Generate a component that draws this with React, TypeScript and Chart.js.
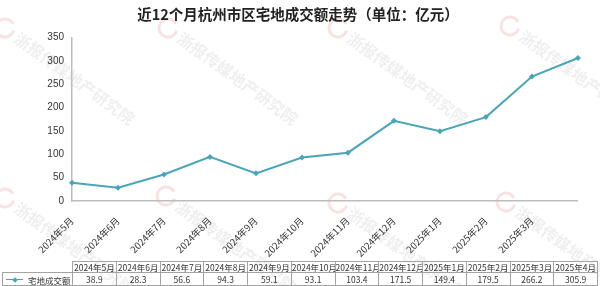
import React, { useEffect, useRef } from "react";
import { Chart, registerables } from "chart.js";

Chart.register(...registerables);

const TITLE = "近12个月杭州市区宅地成交额走势（单位：亿元）";
const SERIES_NAME = "宅地成交额";
const MONTHS = [
  "2024年5月", "2024年6月", "2024年7月", "2024年8月", "2024年9月", "2024年10月",
  "2024年11月", "2024年12月", "2025年1月", "2025年2月", "2025年3月", "2025年4月",
];
const VALUES = [38.9, 28.3, 56.6, 94.3, 59.1, 93.1, 103.4, 171.5, 149.4, 179.5, 266.2, 305.9];
const Y_MIN = 0;
const Y_MAX = 350;
const Y_STEP = 50;
const WATERMARK = "浙报传媒地产研究院";

const LINE_COLOR = "#48a6b6";
const FONT = "'Noto Sans CJK SC', 'Noto Sans', sans-serif";

const watermarkPlugin = {
  id: "watermark",
  beforeDraw(chart: any) {
    const ctx = chart.ctx as CanvasRenderingContext2D;
    const anchors = [
      [5, 28], [168, 28], [338, 28], [510, 26],
      [5, 198], [166, 196], [338, 203], [506, 202],
    ];
    ctx.save();
    for (const [ax, ay] of anchors) {
      ctx.save();
      ctx.translate(ax, ay);
      ctx.strokeStyle = "rgba(226,110,110,0.2)";
      ctx.lineWidth = 3;
      ctx.beginPath();
      ctx.arc(0, 0, 9, 0.3, Math.PI * 1.85);
      ctx.stroke();
      ctx.rotate((36 * Math.PI) / 180);
      ctx.fillStyle = "rgba(150,150,150,0.15)";
      ctx.font = `bold 16px ${FONT}`;
      ctx.textBaseline = "middle";
      ctx.fillText(WATERMARK, 14, 0);
      ctx.restore();
    }
    ctx.restore();
  },
};

function DataTable() {
  const border = "1px solid #a3a3a3";
  const cell: React.CSSProperties = {
    border,
    padding: 0,
    textAlign: "center",
    whiteSpace: "nowrap",
    overflow: "hidden",
  };
  return (
    <table
      style={{
        position: "absolute",
        left: 2,
        top: 261,
        width: 596,
        borderCollapse: "collapse",
        tableLayout: "fixed",
        fontFamily: FONT,
        fontSize: 8.5,
        color: "#333",
        lineHeight: "10px",
      }}
    >
      <colgroup>
        <col style={{ width: 70 }} />
        {MONTHS.map((m) => (
          <col key={m} />
        ))}
      </colgroup>
      <tbody>
        <tr style={{ height: 11 }}>
          <td style={{ padding: 0, border: "none" }}></td>
          {MONTHS.map((m) => (
            <td key={m} style={cell}>
              {m}
            </td>
          ))}
        </tr>
        <tr style={{ height: 12 }}>
          <td style={{ ...cell, textAlign: "left" }}>
            <span
              style={{
                display: "inline-block",
                position: "relative",
                width: 17,
                height: 10,
                marginLeft: 3,
                marginRight: 5,
                verticalAlign: "middle",
              }}
            >
              <span
                style={{
                  position: "absolute",
                  left: 0,
                  top: 4.5,
                  width: 17,
                  height: 1.2,
                  background: LINE_COLOR,
                }}
              />
              <span
                style={{
                  position: "absolute",
                  left: 6.5,
                  top: 3,
                  width: 4,
                  height: 4,
                  background: LINE_COLOR,
                  transform: "rotate(45deg)",
                }}
              />
            </span>
            <span style={{ verticalAlign: "middle" }}>{SERIES_NAME}</span>
          </td>
          {VALUES.map((v, i) => (
            <td key={i} style={cell}>
              {v.toFixed(1)}
            </td>
          ))}
        </tr>
      </tbody>
    </table>
  );
}

export default function App() {
  const canvasRef = useRef<HTMLCanvasElement | null>(null);

  useEffect(() => {
    if (!canvasRef.current) return;
    const chart = new Chart(canvasRef.current, {
      type: "line",
      data: {
        labels: MONTHS,
        datasets: [
          {
            label: SERIES_NAME,
            data: VALUES,
            borderColor: LINE_COLOR,
            backgroundColor: LINE_COLOR,
            borderWidth: 2,
            pointStyle: "rectRot",
            pointRadius: 3,
            pointBorderWidth: 0,
            tension: 0,
            fill: false,
          },
        ],
      },
      options: {
        responsive: false,
        animation: false,
        layout: { padding: { left: 0, right: 4, top: 0, bottom: 0 } },
        plugins: {
          legend: { display: false },
          tooltip: { enabled: false },
          title: {
            display: true,
            text: TITLE,
            color: "#222",
            font: { family: FONT, size: 14.5, weight: "bold" },
            padding: { top: 6, bottom: 14 },
          },
        },
        scales: {
          x: {
            type: "category",
            offset: false,
            grid: { display: false, drawTicks: false },
            border: { display: true, color: "#bdbdbd", width: 1.5 },
            ticks: {
              autoSkip: false,
              maxRotation: 45,
              minRotation: 45,
              padding: 14,
              color: "#333",
              font: { family: FONT, size: 9.5 },
              callback: function (this: any, _v: any, index: number) {
                return index === MONTHS.length - 1 ? "" : MONTHS[index];
              },
            },
            afterFit: (scale: any) => {
              scale.height = 85;
            },
          },
          y: {
            min: Y_MIN,
            max: Y_MAX,
            grid: { display: false, drawTicks: false },
            border: { display: true, color: "#bdbdbd", width: 1.5 },
            ticks: {
              stepSize: Y_STEP,
              padding: 8,
              color: "#333",
              font: { family: "'Liberation Sans', Arial, sans-serif", size: 10 },
            },
            afterFit: (scale: any) => {
              scale.width = 72;
            },
          },
        },
      },
      plugins: [watermarkPlugin],
    });
    return () => chart.destroy();
  }, []);

  return (
    <div
      style={{
        position: "absolute",
        left: 0,
        top: 0,
        width: 600,
        height: 286,
        background: "#fff",
        overflow: "hidden",
      }}
    >
      <canvas ref={canvasRef} width={600} height={286} style={{ display: "block" }} />
      <DataTable />
    </div>
  );
}
